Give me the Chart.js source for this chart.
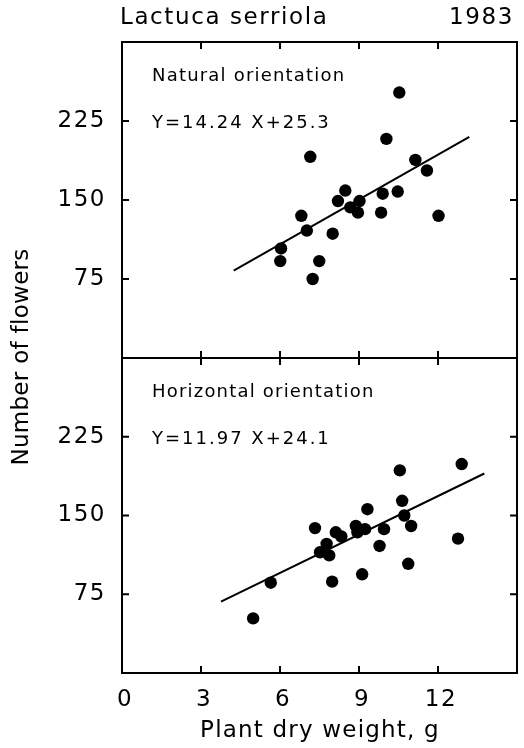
<!DOCTYPE html>
<html>
<head>
<meta charset="utf-8">
<script src="https://cdn.jsdelivr.net/npm/chart.js@4.4.0/dist/chart.umd.min.js"></script>
<style>
  html, body { margin: 0; padding: 0; background: #fff; }
  #wrap { position: relative; width: 524px; height: 748px; }
  canvas { position: absolute; left: 0; top: 0; }
</style>
</head>
<body>
<div id="wrap">
  <canvas id="topChart" width="524" height="748"></canvas>
  <canvas id="bottomChart" width="524" height="748"></canvas>
</div>
<script>
const title = 'Lactuca serriola';
const year = '1983';
const xTitle = 'Plant dry weight, g';
const yTitle = 'Number of flowers';

const xTicks = [0, 3, 6, 9, 12];
const yTicks = [75, 150, 225];

// top panel
const naturalLabel = 'Natural orientation';
const naturalEquation = 'Y=14.24 X+25.3';
const naturalX = [10.53, 10.04, 7.15, 11.14, 11.58, 8.48, 8.2, 8.67, 9.02, 8.96, 9.9, 10.47, 9.84, 12.02, 6.81, 7.02, 8.0, 6.04, 6.01, 7.49, 7.24];
const naturalY = [252, 208, 191, 188, 178, 159, 149, 143, 149, 138, 156, 158, 138, 135, 135, 121, 118, 104, 92, 92, 75];
const naturalLineX = [4.24, 13.19];
const naturalLineY = [83, 210];

// bottom panel
const horizontalLabel = 'Horizontal orientation';
const horizontalEquation = 'Y=11.97 X+24.1';
const horizontalX = [12.9, 10.55, 10.64, 9.32, 10.72, 7.33, 8.88, 8.94, 9.23, 8.12, 8.33, 9.95, 10.98, 7.77, 7.52, 7.87, 9.78, 12.76, 10.87, 9.12, 7.98, 5.65, 4.98];
const horizontalY = [199, 193, 164, 156, 150, 138, 140, 134, 137, 134, 130, 137, 140, 123, 115, 112, 121, 128, 104, 94, 87, 86, 52];
const horizontalLineX = [3.76, 13.76];
const horizontalLineY = [68, 190];

const FONT = 'DejaVu Sans';

const toPoints = (xs, ys) => xs.map((v, i) => ({ x: v, y: ys[i] }));

const framePlugin = {
  id: 'frame',
  beforeDraw(chart) {
    // wider spacing for the tick labels, like the original lettering
    chart.ctx.letterSpacing = '1.5px';
  },
  afterDatasetsDraw(chart, args, opts) {
    const { ctx, chartArea: a, scales: { x, y } } = chart;
    ctx.save();
    ctx.strokeStyle = '#000';
    ctx.lineWidth = 2;
    ctx.strokeRect(a.left, a.top, a.right - a.left, a.bottom - a.top);
    ctx.beginPath();
    xTicks.slice(1).forEach(v => {
      const px = x.getPixelForValue(v);
      ctx.moveTo(px, a.top); ctx.lineTo(px, a.top + 7);
      ctx.moveTo(px, a.bottom); ctx.lineTo(px, a.bottom - 7);
    });
    yTicks.forEach(v => {
      const py = y.getPixelForValue(v);
      ctx.moveTo(a.left, py); ctx.lineTo(a.left + 7, py);
      ctx.moveTo(a.right, py); ctx.lineTo(a.right - 7, py);
    });
    ctx.stroke();

    ctx.fillStyle = '#000';
    ctx.textBaseline = 'middle';
    ctx.textAlign = 'left';
    ctx.font = '18px "' + FONT + '"';
    ctx.letterSpacing = '1.2px';
    ctx.fillText(opts.label, a.left + 30, a.top + 34);
    ctx.letterSpacing = '2px';
    ctx.fillText(opts.equation, a.left + 30, a.top + 81);

    if (opts.titles) {
      ctx.font = '23px "' + FONT + '"';
      ctx.letterSpacing = '1.6px';
      ctx.fillText(title, 120, 18);
      ctx.textAlign = 'right';
      ctx.fillText(year, 514, 18);
      ctx.textAlign = 'center';
      ctx.letterSpacing = '1.2px';
      ctx.fillText(xTitle, 320, 731);
      ctx.letterSpacing = '0.3px';
      ctx.translate(22, 357);
      ctx.rotate(-Math.PI / 2);
      ctx.fillText(yTitle, 0, 0);
    }
    ctx.restore();
  }
};

function makeChart(id, xs, ys, lineX, lineY, label, equation, isBottom) {
  const ctx = document.getElementById(id).getContext('2d');
  return new Chart(ctx, {
    type: 'scatter',
    data: {
      datasets: [
        {
          data: toPoints(xs, ys),
          pointRadius: 6.2,
          pointBackgroundColor: '#000',
          pointBorderWidth: 0,
          showLine: false
        },
        {
          data: toPoints(lineX, lineY),
          showLine: true,
          pointRadius: 0,
          borderColor: '#000',
          borderWidth: 2
        }
      ]
    },
    options: {
      responsive: false,
      animation: false,
      events: [],
      layout: {
        padding: isBottom
          ? { top: 358, right: 7, bottom: 0, left: 0 }
          : { top: 42, right: 7, bottom: 390, left: 0 }
      },
      plugins: {
        legend: { display: false },
        tooltip: { enabled: false },
        frame: { label: label, equation: equation, titles: isBottom }
      },
      scales: {
        x: {
          type: 'linear',
          min: 0,
          max: 15,
          display: isBottom,
          grid: { display: false, drawTicks: false },
          border: { display: false },
          ticks: {
            stepSize: 3,
            padding: 13,
            labelOffset: 3,
            color: '#000',
            font: { family: FONT, size: 23 },
            callback: v => xTicks.includes(v) ? String(v) : ''
          },
          afterFit: s => {
            s.paddingLeft = 0;
            s.paddingRight = 0;
            if (isBottom) s.height = 75;
          }
        },
        y: {
          min: 0,
          max: 300,
          grid: { display: false, drawTicks: false },
          border: { display: false },
          ticks: {
            stepSize: 75,
            padding: 16,
            color: '#000',
            font: { family: FONT, size: 23 },
            callback: v => yTicks.includes(v) ? String(v) : ''
          },
          afterFit: s => { s.width = 122; }
        }
      }
    },
    plugins: [framePlugin]
  });
}

makeChart('topChart', naturalX, naturalY, naturalLineX, naturalLineY, naturalLabel, naturalEquation, false);
makeChart('bottomChart', horizontalX, horizontalY, horizontalLineX, horizontalLineY, horizontalLabel, horizontalEquation, true);
</script>
</body>
</html>
